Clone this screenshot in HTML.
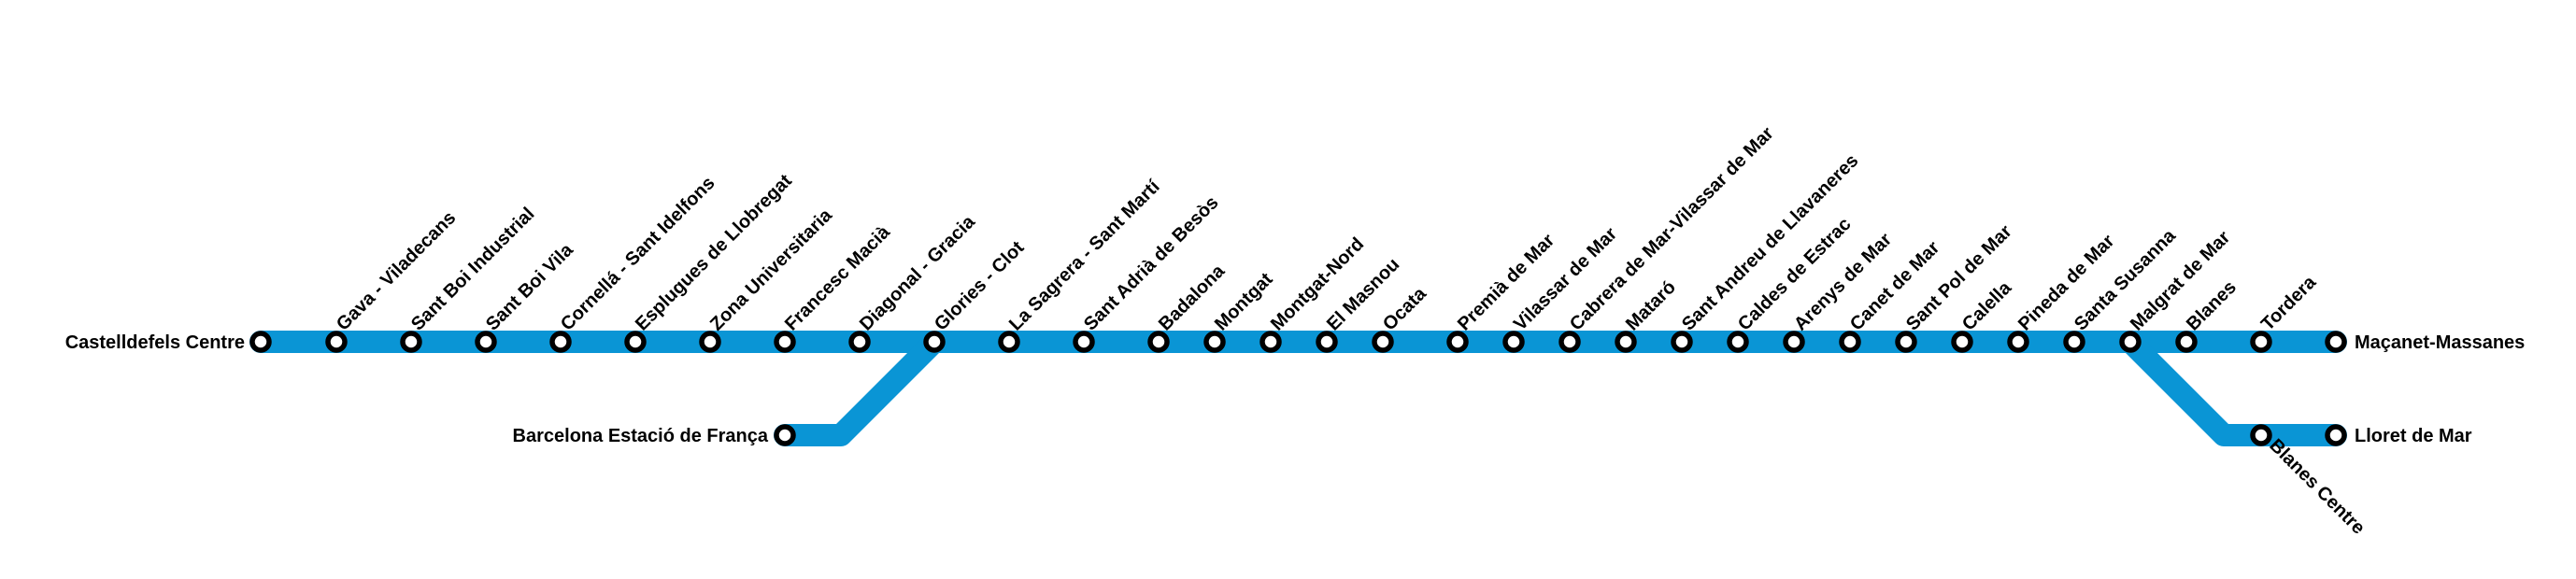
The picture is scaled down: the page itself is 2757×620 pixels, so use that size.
<!DOCTYPE html>
<html><head><meta charset="utf-8"><style>
html,body{margin:0;padding:0;background:#fff;}
svg{display:block;}
text{font-family:"Liberation Sans",Arial,sans-serif;font-weight:bold;font-size:20px;fill:#000;}
</style></head><body>
<svg width="2757" height="620" viewBox="0 0 2757 620" xmlns="http://www.w3.org/2000/svg">
<g fill="none" stroke="#0a95d5" stroke-width="24" stroke-linejoin="round">
<line x1="279" y1="366" x2="2500" y2="366" stroke-linecap="round"/>
<polyline points="840,466 900,466 1000,366" stroke-linecap="round"/>
<polyline points="2280,366 2380,466 2500,466" stroke-linecap="round"/>
</g>
<g fill="#fff" stroke="#000" stroke-width="5.5">
<circle cx="279" cy="366" r="9"/>
<circle cx="360" cy="366" r="9"/>
<circle cx="440" cy="366" r="9"/>
<circle cx="520" cy="366" r="9"/>
<circle cx="600" cy="366" r="9"/>
<circle cx="680" cy="366" r="9"/>
<circle cx="760" cy="366" r="9"/>
<circle cx="840" cy="366" r="9"/>
<circle cx="920" cy="366" r="9"/>
<circle cx="1000" cy="366" r="9"/>
<circle cx="1080" cy="366" r="9"/>
<circle cx="1160" cy="366" r="9"/>
<circle cx="1240" cy="366" r="9"/>
<circle cx="1300" cy="366" r="9"/>
<circle cx="1360" cy="366" r="9"/>
<circle cx="1420" cy="366" r="9"/>
<circle cx="1480" cy="366" r="9"/>
<circle cx="1560" cy="366" r="9"/>
<circle cx="1620" cy="366" r="9"/>
<circle cx="1680" cy="366" r="9"/>
<circle cx="1740" cy="366" r="9"/>
<circle cx="1800" cy="366" r="9"/>
<circle cx="1860" cy="366" r="9"/>
<circle cx="1920" cy="366" r="9"/>
<circle cx="1980" cy="366" r="9"/>
<circle cx="2040" cy="366" r="9"/>
<circle cx="2100" cy="366" r="9"/>
<circle cx="2160" cy="366" r="9"/>
<circle cx="2220" cy="366" r="9"/>
<circle cx="2280" cy="366" r="9"/>
<circle cx="2340" cy="366" r="9"/>
<circle cx="2420" cy="366" r="9"/>
<circle cx="2500" cy="366" r="9"/>
<circle cx="840" cy="466" r="9"/>
<circle cx="2420" cy="466" r="9"/>
<circle cx="2500" cy="466" r="9"/>
</g>
<text x="262" y="373" text-anchor="end">Castelldefels Centre</text>
<text x="822" y="473" text-anchor="end">Barcelona Estació de França</text>
<text x="2520" y="373">Maçanet-Massanes</text>
<text x="2520" y="473">Lloret de Mar</text>
<text transform="translate(2428,478) rotate(45)">Blanes Centre</text>
<g>
<text transform="translate(368,355) rotate(-45)">Gava - Viladecans</text>
<text transform="translate(448,355) rotate(-45)">Sant Boi Industrial</text>
<text transform="translate(528,355) rotate(-45)">Sant Boi Vila</text>
<text transform="translate(608,355) rotate(-45)">Cornellá - Sant Idelfons</text>
<text transform="translate(688,355) rotate(-45)">Esplugues de Llobregat</text>
<text transform="translate(768,355) rotate(-45)">Zona Universitaria</text>
<text transform="translate(848,355) rotate(-45)">Francesc Macià</text>
<text transform="translate(928,355) rotate(-45)">Diagonal - Gracia</text>
<text transform="translate(1008,355) rotate(-45)">Glories - Clot</text>
<text transform="translate(1088,355) rotate(-45)">La Sagrera - Sant Martí</text>
<text transform="translate(1168,355) rotate(-45)">Sant Adrià de Besòs</text>
<text transform="translate(1248,355) rotate(-45)">Badalona</text>
<text transform="translate(1308,355) rotate(-45)">Montgat</text>
<text transform="translate(1368,355) rotate(-45)">Montgat-Nord</text>
<text transform="translate(1428,355) rotate(-45)">El Masnou</text>
<text transform="translate(1488,355) rotate(-45)">Ocata</text>
<text transform="translate(1568,355) rotate(-45)">Premià de Mar</text>
<text transform="translate(1628,355) rotate(-45)">Vilassar de Mar</text>
<text transform="translate(1688,355) rotate(-45)">Cabrera de Mar-Vilassar de Mar</text>
<text transform="translate(1748,355) rotate(-45)">Mataró</text>
<text transform="translate(1808,355) rotate(-45)">Sant Andreu de Llavaneres</text>
<text transform="translate(1868,355) rotate(-45)">Caldes de Estrac</text>
<text transform="translate(1928,355) rotate(-45)">Arenys de Mar</text>
<text transform="translate(1988,355) rotate(-45)">Canet de Mar</text>
<text transform="translate(2048,355) rotate(-45)">Sant Pol de Mar</text>
<text transform="translate(2108,355) rotate(-45)">Calella</text>
<text transform="translate(2168,355) rotate(-45)">Pineda de Mar</text>
<text transform="translate(2228,355) rotate(-45)">Santa Susanna</text>
<text transform="translate(2288,355) rotate(-45)">Malgrat de Mar</text>
<text transform="translate(2348,355) rotate(-45)">Blanes</text>
<text transform="translate(2428,355) rotate(-45)">Tordera</text>
</g>
</svg>
</body></html>
